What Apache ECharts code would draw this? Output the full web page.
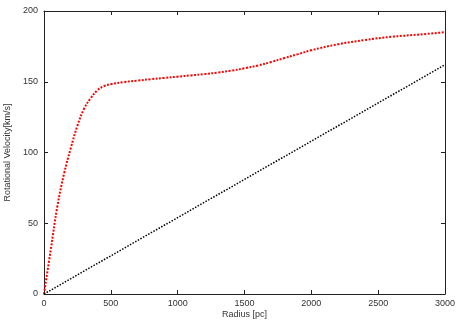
<!DOCTYPE html>
<html>
<head>
<meta charset="utf-8">
<script src="https://cdn.jsdelivr.net/npm/echarts@6/dist/echarts.min.js"></script>
<style>html,body{margin:0;padding:0;background:#fff;}#c{width:458px;height:321px;}</style>
</head>
<body>
<div id="c"></div>
<script>
// Data
const radius = [0,50,100,150,200,250,300,350,400,450,500,600,700,800,900,1000,1100,1200,1300,1400,1500,1600,1700,1800,1900,2000,2200,2400,2600,2800,3000];
const velocityTotal = [0,31,62,85,103,119,131,138.5,144,147,148.3,149.8,150.8,151.8,152.7,153.6,154.5,155.4,156.5,157.8,159.5,161.5,164,166.8,169.5,172.3,176.5,179.5,181.8,183.3,185];
const radiusLinear = [0,500,1000,1500,2000,2500,3000];
const velocityLinear = [0,27,54,81,108,135,162];
const xTicks = [0,500,1000,1500,2000,2500,3000];
const yTicks = [0,50,100,150,200];

const chart = echarts.init(document.getElementById('c'), null, {renderer:'canvas'});
const font = 'Liberation Sans, Arial, Helvetica, sans-serif';
const axisCol = '#222';
function baseAxis(extra){
  return Object.assign({
    axisLine:{show:true,onZero:false,lineStyle:{color:axisCol,width:1}},
    axisTick:{show:true,inside:true,length:4,lineStyle:{color:axisCol}},
    splitLine:{show:false},
    nameMoveOverlap:false,
  }, extra);
}
chart.setOption({
  animation:false,
  backgroundColor:'#fff',
  grid:{left:44,right:13,top:11,bottom:27,containLabel:false,outerBoundsMode:'none'},
  xAxis:[
    baseAxis({type:'value',min:xTicks[0],max:xTicks[xTicks.length-1],interval:xTicks[1]-xTicks[0],position:'bottom',
      name:'Radius [pc]',nameLocation:'middle',nameGap:16,
      nameTextStyle:{fontFamily:font,fontSize:9,color:'#333'},
      axisLabel:{fontFamily:font,fontSize:9,color:'#333',margin:5,formatter:v=>String(v)}}),
    baseAxis({type:'value',min:xTicks[0],max:xTicks[xTicks.length-1],interval:xTicks[1]-xTicks[0],position:'top',axisLabel:{show:false}})
  ],
  yAxis:[
    baseAxis({type:'value',min:yTicks[0],max:yTicks[yTicks.length-1],interval:yTicks[1]-yTicks[0],position:'left',
      name:'Rotational Velocity[km/s]',nameLocation:'middle',nameGap:32,
      nameTextStyle:{fontFamily:font,fontSize:9,color:'#333'},
      axisLabel:{fontFamily:font,fontSize:9,color:'#333',margin:6,formatter:v=>String(v)}}),
    baseAxis({type:'value',min:yTicks[0],max:yTicks[yTicks.length-1],interval:yTicks[1]-yTicks[0],position:'right',axisLabel:{show:false}})
  ],
  series:[
    {type:'line',xAxisIndex:0,yAxisIndex:0,smooth:0.4,showSymbol:false,
      data:radius.map((r,i)=>[r,velocityTotal[i]]),
      lineStyle:{color:'#ff0000',width:2,type:[2,1.5]}},
    {type:'line',xAxisIndex:0,yAxisIndex:0,showSymbol:false,
      data:radiusLinear.map((r,i)=>[r,velocityLinear[i]]),
      lineStyle:{color:'#000',width:1.5,type:[1.5,1.5]}}
  ]
});
</script>
</body>
</html>
